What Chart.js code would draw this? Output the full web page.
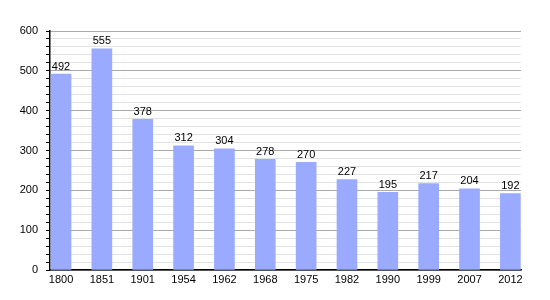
<!DOCTYPE html>
<html>
<head>
<meta charset="UTF-8">
<title>Population</title>
<script src="https://cdn.jsdelivr.net/npm/chart.js@4"></script>
</head>
<body style="margin:0; background:#fff;">
<div style="width:550px; height:300px;">
    <canvas id="popChart" width="550" height="300"></canvas>
</div>
<script>
// données
const years = ['1800', '1851', '1901', '1954', '1962', '1968', '1975', '1982', '1990', '1999', '2007', '2012'];
const population = [492, 555, 378, 312, 304, 278, 270, 227, 195, 217, 204, 192];
const yTicks = [0, 100, 200, 300, 400, 500, 600];

const FONT = '"Liberation Sans", Arial, sans-serif';

// étiquettes au-dessus des barres
const valueLabels = {
    id: 'valueLabels',
    afterDatasetsDraw(chart) {
        const ctx = chart.ctx;
        const meta = chart.getDatasetMeta(0);
        ctx.save();
        ctx.font = '11px ' + FONT;
        ctx.fillStyle = '#000';
        ctx.textAlign = 'center';
        ctx.textBaseline = 'bottom';
        meta.data.forEach((bar, i) => {
            ctx.fillText(String(population[i]), bar.x, bar.y - 2);
        });
        ctx.restore();
    }
};

new Chart(document.getElementById('popChart'), {
    type: 'bar',
    data: {
        datasets: [{
            data: population.map((v, i) => ({ x: i, y: v })),
            backgroundColor: 'rgb(153,170,255)',
            borderWidth: 0,
            barThickness: 20
        }]
    },
    options: {
        responsive: false,
        animation: false,
        layout: { padding: { top: 31, right: 29, left: 0, bottom: 0 } },
        plugins: { legend: { display: false }, tooltip: { enabled: false } },
        scales: {
            x: {
                type: 'linear',
                offset: false,
                min: -0.27,
                max: 11.26,
                grid: { display: false, drawTicks: false, tickLength: 0, offset: false },
                border: { display: true, color: '#000', width: 1.5 },
                ticks: {
                    stepSize: 1,
                    includeBounds: false,
                    autoSkip: false,
                    maxRotation: 0,
                    padding: 3,
                    color: '#000',
                    font: { family: FONT, size: 11 },
                    callback: (v) => Number.isInteger(v) ? years[v] : ''
                },
                afterFit: (s) => { s.height = 30; }
            },
            y: {
                min: 0,
                max: 600,
                grid: {
                    color: (c) => c.tick && c.tick.value % 100 === 0 ? '#aaaaaa' : '#e2e2e2',
                    tickColor: '#000',
                    tickLength: 4,
                    lineWidth: 1
                },
                border: { display: true, color: '#000', width: 1.5 },
                ticks: {
                    stepSize: 20,
                    autoSkip: false,
                    padding: 8,
                    color: '#000',
                    font: { family: FONT, size: 11 },
                    callback: (v) => yTicks.includes(v) ? String(v) : ''
                },
                afterFit: (s) => { s.width = 50; }
            }
        }
    },
    plugins: [valueLabels]
});
</script>
</body>
</html>
